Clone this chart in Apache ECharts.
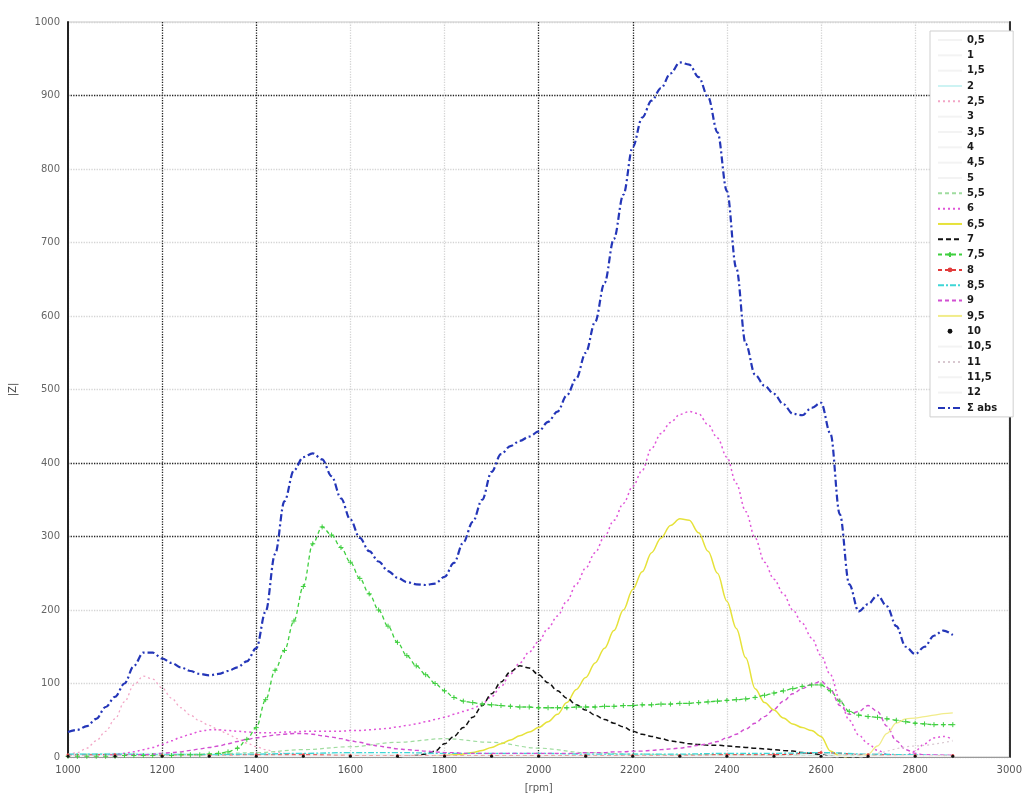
<!DOCTYPE html>
<html>
<head>
<meta charset="utf-8">
<script src="https://cdn.jsdelivr.net/npm/echarts@6/dist/echarts.min.js"></script>
<style>
  html, body { margin: 0; padding: 0; background: #fff; }
  #chart { width: 1025px; height: 798px; }
</style>
</head>
<body>
<div id="chart"></div>
<script>
// Speed grid (step 20) used by the main curves
const rpm = [
  1000,1020,1040,1060,1080,1100,1120,1140,1160,1180,
  1200,1220,1240,1260,1280,1300,1320,1340,1360,1380,
  1400,1420,1440,1460,1480,1500,1520,1540,1560,1580,
  1600,1620,1640,1660,1680,1700,1720,1740,1760,1780,
  1800,1820,1840,1860,1880,1900,1920,1940,1960,1980,
  2000,2020,2040,2060,2080,2100,2120,2140,2160,2180,
  2200,2220,2240,2260,2280,2300,2320,2340,2360,2380,
  2400,2420,2440,2460,2480,2500,2520,2540,2560,2580,
  2600,2620,2640,2660,2680,2700,2720,2740,2760,2780,
  2800,2820,2840,2860,2880
];
// Coarse speed grid for the small orders
const rpmCoarse = [1000,1100,1200,1300,1400,1500,1600,1700,1800,1900,2000,2100,2200,2300,2400,2500,2600,2700,2800,2880];

const xTicks = { min: 1000, max: 3000, step: 200 };
const yTicks = { min: 0, max: 1000, step: 100 };

const legendNames = ['0,5','1','1,5','2','2,5','3','3,5','4','4,5','5','5,5','6','6,5','7','7,5','8','8,5','9','9,5','10','10,5','11','11,5','12','Σ abs'];
// legend entries that show a marker next to the line sample
const legendWithMarker = ['7,5', '8', '10'];

// Σ abs
const sumAbs = [
  34,37,42,52,68,82,100,124,142,142,
  134,128,122,117,113,111,113,117,122,130,
  148,198,276,348,390,408,413,405,382,352,
  323,298,280,266,253,244,238,235,234,236,
  245,264,292,320,350,388,412,423,430,436,
  443,456,470,492,515,550,592,645,705,765,
  830,870,893,910,930,945,942,925,898,850,
  770,665,562,520,505,494,480,467,465,475,
  482,440,330,235,198,208,220,205,178,150,
  140,150,165,172,166
];
// order 6
const order6 = [
  1,1,2,2,3,4,5,7,10,13,
  17,22,27,31,35,37,37,36,35,34,
  33,33,33,34,34,35,35,35,35,35,
  36,36,37,38,39,41,43,45,48,51,
  54,58,62,66,72,82,96,113,128,143,
  157,175,192,212,235,257,278,300,322,345,
  368,390,420,440,455,466,470,467,452,434,
  408,372,334,298,265,242,222,200,182,162,
  138,112,78,50,30,18,9,4,1,2,
  8,18,26,28,24
];
// order 2,5 (from 1000)
const order2_5 = [
  3,6,12,22,35,52,75,98,110,106,
  94,80,67,57,49,43,37,31,25,19,
  14,10,7,5,4,3,2,2,1,1
];
// order 7,5
const order7_5 = [
  1,1,1,1,1,1,2,2,2,2,
  2,2,3,3,3,4,5,7,12,24,
  40,78,118,145,185,232,290,313,302,285,
  265,243,222,200,178,156,138,124,112,100,
  90,81,76,74,72,71,70,69,68,68,
  67,67,67,67,68,68,68,69,69,70,
  70,71,71,72,72,73,73,74,75,76,
  77,78,79,81,84,87,90,93,96,98,
  98,90,76,62,57,55,54,52,50,48,
  46,45,44,44,44
];
// order 9
const order9 = [
  1,1,1,1,2,2,2,3,3,4,
  5,6,7,9,11,13,15,18,21,24,
  26,28,30,31,32,32,31,29,27,25,
  22,20,17,15,13,11,10,9,8,7,
  6,6,5,5,5,5,5,5,5,5,
  5,5,5,5,5,6,6,6,7,7,
  8,8,9,10,11,12,14,16,18,21,
  26,31,38,46,55,65,76,86,93,99,
  103,92,70,58,62,70,62,42,22,10,
  5,3,3,3,3
];
// order 7 (from 1700)
const order7Start = 1700;
const order7 = [
  0,1,2,4,8,
  18,28,40,54,70,86,102,116,124,121,
  112,101,90,80,71,64,57,51,46,41,
  35,31,28,25,22,20,18,17,16,16,
  15,14,13,12,11,10,9,8,6,5,
  3,1,0,0,0,0
];
// order 6,5 (from 1780)
const order6_5Start = 1780;
const order6_5 = [
  1,
  2,3,4,6,9,13,18,23,29,34,
  40,48,58,74,92,108,128,148,172,200,
  228,252,278,298,315,324,322,305,280,250,
  212,175,135,93,74,64,53,45,40,36,
  28,8,1,0
];
// order 9,5 (from 2680)
const order9_5Start = 2680;
const order9_5 = [0,4,15,32,46,52,53,55,57,59,60];

// small orders on the coarse grid
const order0_5  = [2,2,2,2,2,2,2,2,2,2,2,2,2,2,2,2,2,2,2,2];
const order1    = [3,3,3,3,2,2,2,2,2,2,2,2,2,2,2,2,2,2,2,2];
const order1_5  = [1,2,2,2,2,3,3,3,3,3,2,2,2,2,2,2,2,2,2,2];
const order2    = [4,5,5,4,4,4,4,3,3,3,3,3,3,3,3,3,4,3,3,3];
const order3    = [1,1,1,1,1,1,1,1,1,1,1,1,1,1,1,1,1,1,1,1];
const order3_5  = [2,2,2,2,2,2,2,2,2,2,2,2,2,2,2,2,2,2,2,2];
const order4    = [1,1,1,2,2,2,2,2,2,2,2,2,2,2,2,2,2,2,2,2];
const order4_5  = [1,1,1,1,1,1,1,1,1,1,1,1,1,1,1,1,1,1,1,1];
const order5    = [2,2,2,2,3,3,3,3,3,3,3,3,2,2,2,2,2,2,2,2];
const order5_5  = [2,2,3,4,6,10,14,20,25,20,12,6,4,3,3,2,2,2,1,1];
const order8    = [3,3,2,2,3,3,2,2,2,2,2,2,2,2,3,3,6,3,2,2];
const order8_5  = [4,4,3,3,4,5,6,6,5,5,5,4,4,4,5,5,6,4,3,3];
const order10   = [1,1,1,1,1,1,1,1,1,1,1,1,1,1,1,1,1,1,1,1];
const order10_5 = [1,1,1,1,1,1,1,1,1,1,1,1,1,1,1,1,1,1,2,3];
const order11   = [1,1,1,1,1,1,1,1,1,1,1,1,1,1,1,1,2,4,15,22];
const order11_5 = [1,1,1,1,1,1,1,1,1,1,1,1,1,1,1,1,1,1,1,1];
const order12   = [1,1,1,1,1,1,1,1,1,1,1,1,1,1,1,1,1,1,1,1];

// pair a value list with its speed grid, starting at a given speed
function pairs(xs, ys, start) {
  const i0 = start === undefined ? 0 : xs.indexOf(start);
  return ys.map((y, i) => [xs[i0 + i], y]);
}

function line(name, data, color, type, width, extra) {
  return Object.assign({
    name: name,
    type: 'line',
    data: data,
    smooth: 0.35,
    smoothMonotone: 'x',
    showSymbol: false,
    symbol: 'none',
    color: color,
    lineStyle: { color: color, width: width, type: type },
    emphasis: { disabled: true },
    animation: false
  }, extra || {});
}

const pale = '#f3f3f3';
const plusPath = 'path://M0,5L10,5M5,0L5,10';
const series = [
  line('0,5',  pairs(rpmCoarse, order0_5), pale, 'solid', 1),
  line('1',    pairs(rpmCoarse, order1), pale, 'solid', 1),
  line('1,5',  pairs(rpmCoarse, order1_5), pale, 'solid', 1),
  line('2',    pairs(rpmCoarse, order2), '#cdf3f3', 'solid', 1),
  line('2,5',  pairs(rpm, order2_5), '#f2a6c6', [2, 3], 1.3),
  line('3',    pairs(rpmCoarse, order3), pale, 'solid', 1),
  line('3,5',  pairs(rpmCoarse, order3_5), pale, 'solid', 1),
  line('4',    pairs(rpmCoarse, order4), pale, 'solid', 1),
  line('4,5',  pairs(rpmCoarse, order4_5), pale, 'solid', 1),
  line('5',    pairs(rpmCoarse, order5), pale, 'solid', 1),
  line('5,5',  pairs(rpmCoarse, order5_5), '#9fdc9f', [4, 3], 1.2),
  line('6',    pairs(rpm, order6), '#e055d8', [2, 3], 1.5),
  line('6,5',  pairs(rpm, order6_5, order6_5Start), '#e6e23a', 'solid', 1.5),
  line('7',    pairs(rpm, order7, order7Start), '#111111', [5, 3], 1.5),
  line('7,5',  pairs(rpm, order7_5), '#3fcf3f', [4, 3], 1.3,
       { showSymbol: true, symbol: plusPath, symbolSize: 5,
         itemStyle: { color: '#3fcf3f', borderColor: '#3fcf3f', borderWidth: 1 } }),
  line('8',    pairs(rpmCoarse, order8), '#e23b3b', [4, 3], 1.3,
       { showSymbol: true, symbol: 'circle', symbolSize: 3 }),
  line('8,5',  pairs(rpmCoarse, order8_5), '#3fd6d6', [6, 2, 2, 2], 1.3),
  line('9',    pairs(rpm, order9), '#d24fd2', [4, 3], 1.4),
  line('9,5',  pairs(rpm, order9_5, order9_5Start), '#f1ec8a', 'solid', 1.3),
  line('10',   pairs(rpmCoarse, order10), '#111111', 'solid', 0,
       { showSymbol: true, symbol: 'circle', symbolSize: 3, lineStyle: { width: 0, color: '#111' } }),
  line('10,5', pairs(rpmCoarse, order10_5), pale, 'solid', 1),
  line('11',   pairs(rpmCoarse, order11), '#d8c8d0', [2, 3], 1.2),
  line('11,5', pairs(rpmCoarse, order11_5), pale, 'solid', 1),
  line('12',   pairs(rpmCoarse, order12), pale, 'solid', 1),
  line('Σ abs', pairs(rpm, sumAbs), '#2436b8', [7, 3, 2, 3], 2.2)
];

// dotted grid: a few lines come out dark, the rest faint
const dark = '#222', faint = '#d4d4d4';
const ySplitColors = [faint, faint, faint, dark, dark, faint, faint, faint, faint, dark, faint];
const xSplitColors = [faint, dark, dark, faint, faint, dark, dark, faint, faint, faint, faint];

const legendData = legendNames.map(n => legendWithMarker.indexOf(n) >= 0
  ? { name: n }
  : { name: n, itemStyle: { opacity: 0 } });

const chart = echarts.init(document.getElementById('chart'), null, { renderer: 'canvas' });
chart.setOption({
  backgroundColor: '#ffffff',
  animation: false,
  grid: { left: 67, right: 10, top: 22, bottom: 35, show: true, borderColor: '#c8c8c8', borderWidth: 1, containLabel: false },
  legend: {
    data: legendData,
    orient: 'vertical',
    left: 930, top: 31,
    padding: [4, 16, 4, 7],
    itemWidth: 24, itemHeight: 6, itemGap: 5.33,
    backgroundColor: '#ffffff',
    borderColor: '#cfcfcf', borderWidth: 1,
    textStyle: { fontFamily: 'DejaVu Sans', fontSize: 10, color: '#1a1a1a', lineHeight: 10, fontWeight: 'bold' },
    selectedMode: false
  },
  xAxis: {
    type: 'value', min: xTicks.min, max: xTicks.max, interval: xTicks.step,
    name: '[rpm]', nameLocation: 'middle', nameGap: 26,
    nameTextStyle: { fontFamily: 'DejaVu Sans', fontSize: 10, color: '#555' },
    axisLine: { show: true, lineStyle: { color: '#9a9a9a', width: 1 } },
    axisTick: { show: false },
    axisLabel: { fontFamily: 'DejaVu Sans', fontSize: 10, color: '#555', margin: 8, formatter: v => String(v) },
    splitLine: { show: true, lineStyle: { type: 'dotted', color: xSplitColors, width: 1.3 } }
  },
  yAxis: [{
    type: 'value', min: yTicks.min, max: yTicks.max, interval: yTicks.step,
    name: '|Z|', nameLocation: 'middle', nameGap: 50, nameRotate: 90,
    nameTextStyle: { fontFamily: 'DejaVu Sans', fontSize: 10, color: '#444' },
    axisLine: { show: true, lineStyle: { color: '#222', width: 2 } },
    axisTick: { show: false },
    axisLabel: { fontFamily: 'DejaVu Sans', fontSize: 10, color: '#666', margin: 8, formatter: v => String(v) },
    splitLine: { show: true, lineStyle: { type: 'dotted', color: ySplitColors, width: 1.3 } }
  }, {
    type: 'value', min: yTicks.min, max: yTicks.max, interval: yTicks.step, position: 'right',
    axisLine: { show: true, lineStyle: { color: '#333', width: 2 } },
    axisTick: { show: false }, axisLabel: { show: false }, splitLine: { show: false }
  }],
  series: series
});
</script>
</body>
</html>
